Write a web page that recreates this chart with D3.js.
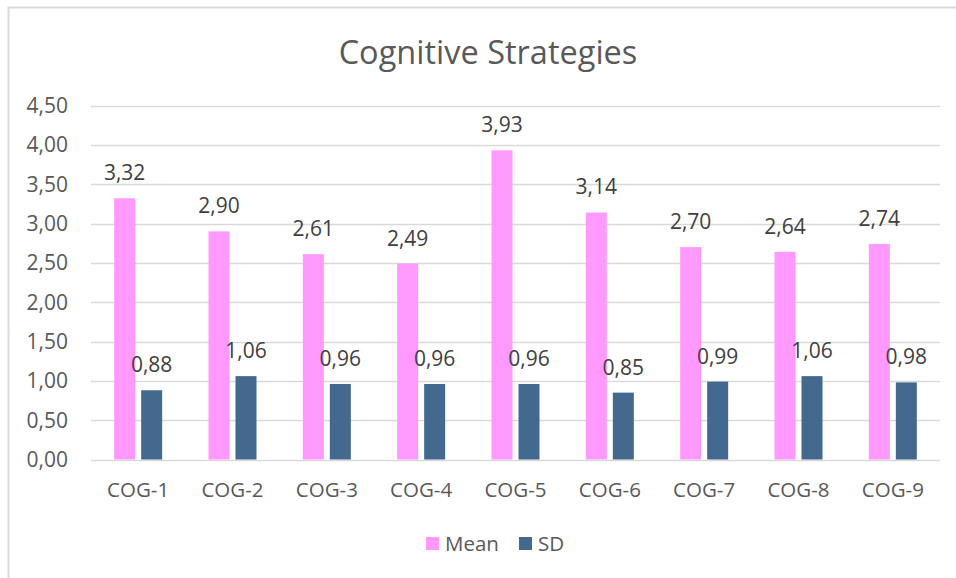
<!DOCTYPE html>
<html>
<head>
<meta charset="utf-8">
<script src="https://cdn.jsdelivr.net/npm/d3@7"></script>
<style>
  body { margin: 0; background: #fff; }
  text { font-family: "Open Sans", sans-serif; fill: #595959; }
</style>
</head>
<body>
<svg id="chart" width="956" height="578"></svg>
<script>
const categories = ["COG-1", "COG-2", "COG-3", "COG-4", "COG-5", "COG-6", "COG-7", "COG-8", "COG-9"];
const meanValues = [3.32, 2.90, 2.61, 2.49, 3.93, 3.14, 2.70, 2.64, 2.74];
const sdValues = [0.88, 1.06, 0.96, 0.96, 0.96, 0.85, 0.99, 1.06, 0.98];
const yTicks = [0, 0.5, 1, 1.5, 2, 2.5, 3, 3.5, 4, 4.5];
const seriesNames = ["Mean", "SD"];
const colors = ["#ff99ff", "#44698e"];

const svg = d3.select("#chart");
const width = +svg.attr("width");
const height = +svg.attr("height");

const fmt = d3.formatLocale({ decimal: ",", thousands: ".", grouping: [3], currency: ["", ""] }).format(".2f");

// chart border (only top and left are visible in the picture)
svg.append("rect")
    .attr("x", 8.5).attr("y", 7.5)
    .attr("width", width + 20).attr("height", height + 20)
    .attr("fill", "none")
    .attr("stroke", "#d9d9d9")
    .attr("stroke-width", 2);

const x = d3.scaleBand()
    .domain(categories)
    .range([91, 940]);

const y = d3.scaleLinear()
    .domain([0, 4.5])
    .range([459.5, 105.5]);

// title
svg.append("text")
    .attr("x", 488)
    .attr("y", 64)
    .attr("text-anchor", "middle")
    .style("font-size", "32.5px")
    .text("Cognitive Strategies");

// gridlines + y labels
const yAxis = svg.append("g");
yAxis.selectAll("line")
    .data(yTicks)
    .enter()
    .append("line")
    .attr("x1", 91).attr("x2", 940)
    .attr("y1", d => Math.round(y(d)) + 0.5)
    .attr("y2", d => Math.round(y(d)) + 0.5)
    .attr("stroke", "#d9d9d9")
    .attr("stroke-width", 1.3);

yAxis.selectAll("text")
    .data(yTicks)
    .enter()
    .append("text")
    .attr("x", 68)
    .attr("y", d => y(d) + 7.5)
    .attr("text-anchor", "end")
    .style("font-size", "21px")
    .text(d => fmt(d));

// x labels
svg.append("g").selectAll("text")
    .data(categories)
    .enter()
    .append("text")
    .attr("x", d => x(d) + x.bandwidth() / 2)
    .attr("y", 497)
    .attr("text-anchor", "middle")
    .style("font-size", "20.5px")
    .text(d => d);

// bars
const barW = 21, gap = 6;
const series = [meanValues, sdValues];
series.forEach((vals, s) => {
    const off = s === 0 ? -barW - gap / 2 : gap / 2;
    const g = svg.append("g");
    g.selectAll("rect")
        .data(vals)
        .enter()
        .append("rect")
        .attr("x", (d, i) => x(categories[i]) + x.bandwidth() / 2 + off)
        .attr("y", d => y(d))
        .attr("width", barW)
        .attr("height", d => y(0) - y(d))
        .attr("fill", colors[s]);

    g.selectAll("text")
        .data(vals)
        .enter()
        .append("text")
        .attr("x", (d, i) => x(categories[i]) + x.bandwidth() / 2 + off + barW / 2)
        .attr("y", d => y(d) - 18)
        .attr("text-anchor", "middle")
        .style("font-size", "21px")
        .style("fill", "#404040")
        .text(d => fmt(d));
});

// legend
const legendX = [426, 519];
const legend = svg.append("g");
seriesNames.forEach((name, i) => {
    legend.append("rect")
        .attr("x", legendX[i]).attr("y", 537)
        .attr("width", 13).attr("height", 13)
        .attr("fill", colors[i]);
    legend.append("text")
        .attr("x", legendX[i] + 19)
        .attr("y", 551)
        .style("font-size", "20.5px")
        .text(name);
});
</script>
</body>
</html>
